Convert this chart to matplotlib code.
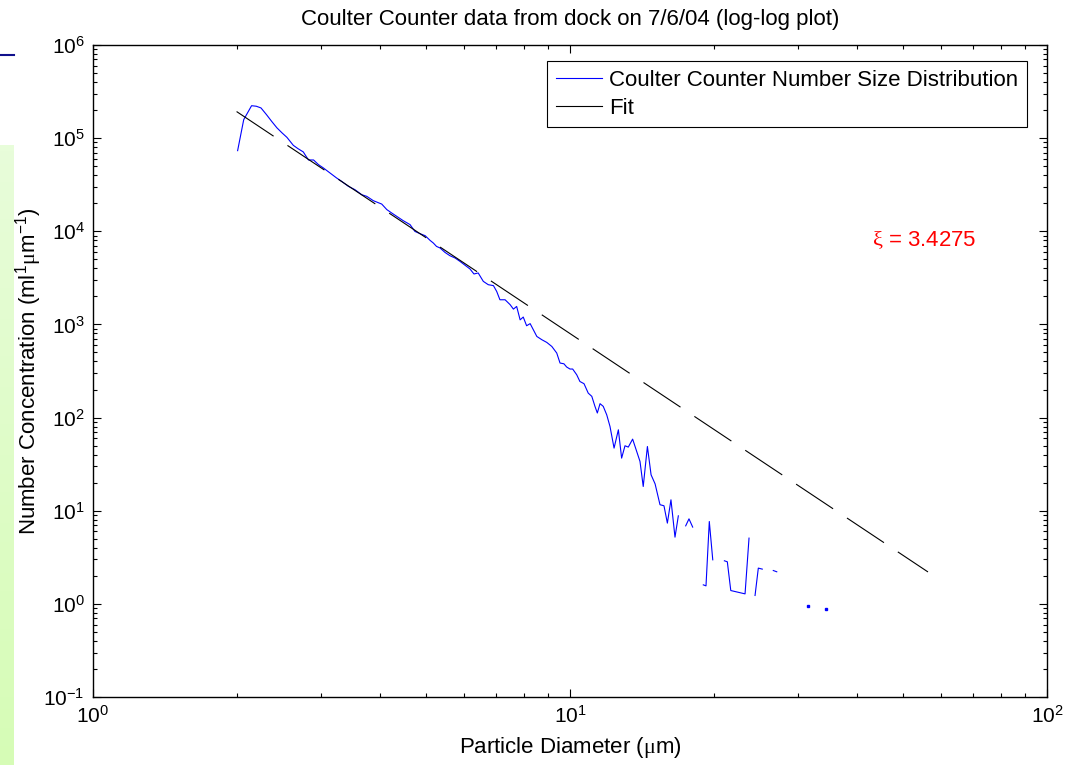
import numpy as np
import matplotlib.pyplot as plt
from matplotlib.lines import Line2D
from matplotlib.ticker import LogLocator

plt.rcParams['font.family'] = ['Liberation Sans', 'DejaVu Sans']
plt.rcParams['mathtext.fontset'] = 'custom'
plt.rcParams['mathtext.rm'] = 'Liberation Sans'
plt.rcParams['mathtext.it'] = 'Liberation Serif'
plt.rcParams['mathtext.default'] = 'regular'
plt.rcParams['axes.unicode_minus'] = False
plt.rcParams['lines.scale_dashes'] = False

# particle diameter (um)
diameter = [2.01, 2.07, 2.15, 2.20, 2.25, 2.31, 2.37, 2.43, 2.49, 2.55,
            2.59, 2.63, 2.69, 2.76, 2.78, 2.83, 2.90, 2.97, 3.04, 3.14,
            3.24, 3.32, 3.43, 3.54, 3.66, 3.75, 3.87, 4.03, 4.13, 4.23,
            4.33, 4.47, 4.62, 4.73, 4.85, 4.97, 5.09, 5.17, 5.25, 5.34,
            5.47, 5.60, 5.74, 5.88, 6.03, 6.17, 6.29, 6.42, 6.58, 6.74,
            6.91, 7.02, 7.13, 7.31, 7.49, 7.61, 7.73, 7.86, 7.98, 8.11,
            8.25, 8.38, 8.52, 8.73, 8.94, 9.16, 9.38, 9.53, 9.71, 9.84,
            10.00, 10.13, 10.33, 10.49, 10.70, 10.92, 11.11, 11.28, 11.41, 11.56,
            11.74, 11.94, 12.13, 12.37, 12.63, 12.83, 13.04, 13.25, 13.53, 13.91,
            14.02, 14.24, 14.53, 14.79, 15.08, 15.44, 15.74, 16.00, 16.28, 16.60,
            16.87, 17.20, 17.48, 17.76, 18.08, 18.50, 19.03, 19.28, 19.59, 19.92,
            20.50, 21.07, 21.37, 21.73, 22.72, 23.28, 23.73, 24.10, 24.43, 24.82,
            25.30, 26.00, 26.68, 27.13, 29.00, 31.50, 33.00, 34.41]

# number concentration, nan where the counter gave zero
nan = np.nan
concentration = [7.34e4, 1.58e5, 2.23e5, 2.20e5, 2.11e5, 1.79e5, 1.51e5, 1.29e5, 1.14e5, 1.02e5,
                 9.24e4, 8.37e4, 7.71e4, 7.11e4, 6.70e4, 5.83e4, 5.83e4, 5.19e4, 4.79e4, 4.23e4,
                 3.74e4, 3.44e4, 3.04e4, 2.80e4, 2.47e4, 2.37e4, 2.13e4, 1.96e4, 1.71e4, 1.57e4,
                 1.45e4, 1.30e4, 1.18e4, 9970, 9420, 8970, 7980, 7480, 6880, 6620,
                 5930, 5470, 5170, 4750, 4300, 3940, 3480, 3570, 2900, 2670,
                 2610, 2260, 1840, 1840, 1630, 1460, 1560, 1120, 1200, 968,
                 1020, 877, 743, 685, 641, 580, 493, 385, 378, 349,
                 332, 332, 288, 244, 231, 183, 169, 132, 112, 141,
                 132, 107, 80.2, 47.0, 73.9, 36.7, 49.8, 48.2, 58.7, 38.2,
                 33.8, 18.2, 48.9, 24.3, 19.4, 11.6, 11.3, 7.36, 13.1, 5.20,
                 8.81, nan, 6.88, 8.18, 6.67, nan, 1.60, 1.56, 7.66, 2.97,
                 nan, 2.90, 2.83, 1.39, 1.32, 1.28, 5.08, nan, 1.23, 2.42,
                 2.36, nan, 2.28, 2.21, nan, 0.953, nan, 0.877]

# power law fit end points
fit_d = [2.0, 56.3]
fit_n = [1.93e5, 2.2]
xi = 3.4275

d = np.array(diameter)
n = np.array(concentration)
# single points between gaps only show up as dots
ok = np.isfinite(n)
prev_ok = np.r_[False, ok[:-1]]
next_ok = np.r_[ok[1:], False]
lone = ok & ~prev_ok & ~next_ok

fig = plt.figure(figsize=(10.86, 7.65), dpi=100)

# bits of the slide behind the figure
gax = fig.add_axes([0, 0, 14/1086, 620/765])
grad = np.linspace(0, 1, 100)[:, None, None]
top = np.array([232, 253, 218]) / 255.
bot = np.array([214, 252, 182]) / 255.
gax.imshow(top + grad * (bot - top), aspect='auto')
gax.axis('off')
fig.add_artist(Line2D([0, 14/1086], [1 - 55/765, 1 - 55/765], transform=fig.transFigure,
                      color='#10108c', lw=1.5))

ax = fig.add_axes([93/1086, 68/765, 954/1086, 652/765])
ax.loglog(d, n, color='#0000ff', lw=0.8)
ax.plot(d[lone], n[lone], ls='none', marker='s', ms=1.6, color='#0000ff')
ax.plot(fit_d, fit_n, color='black', lw=0.8, ls=(0, (32, 12)))

ax.set_xlim(1, 100)
ax.set_ylim(0.1, 1e6)
ax.xaxis.set_major_locator(LogLocator(base=10, numticks=10))
ax.xaxis.set_minor_locator(LogLocator(base=10, subs=np.arange(2, 10), numticks=10))
ax.yaxis.set_major_locator(LogLocator(base=10, numticks=20))
ax.yaxis.set_minor_locator(LogLocator(base=10, subs=np.arange(2, 10), numticks=20))
ax.tick_params(which='both', direction='in', top=True, right=True, width=0.8)
ax.tick_params(which='major', length=6, labelsize=15, pad=6)
ax.tick_params(which='minor', length=3)
for s in ax.spines.values():
    s.set_linewidth(1.0)

fig.text(570/1086, 1 - 20/765, 'Coulter Counter data from dock on 7/6/04 (log-log plot)',
         ha='center', va='center', fontsize=16)
ax.set_xlabel('Particle Diameter ($\\mathit{\\mu}$m)', fontsize=16)
ax.set_ylabel('Number Concentration (ml$^{1}$$\\mathit{\\mu}$m$^{-1}$)', fontsize=16)
ax.xaxis.set_label_coords(0.5, -0.058)
ax.yaxis.set_label_coords(-0.051, 0.5)

ax.text(0.8166, 0.701, '$\\mathit{\\xi}$ = %.4f' % xi, transform=ax.transAxes,
        color='red', fontsize=16, va='center')

handles = [Line2D([], [], color='#0000ff', lw=0.8), Line2D([], [], color='black', lw=0.8)]
leg = ax.legend(handles, ['Coulter Counter Number Size Distribution', 'Fit'],
                loc='upper right', bbox_to_anchor=(1027/1086, 1 - 61/765),
                bbox_transform=fig.transFigure, fontsize=16, fancybox=False,
                edgecolor='black', framealpha=1, borderpad=0.4, labelspacing=0.3,
                handlelength=2.1, handletextpad=0.3, borderaxespad=0)
leg.get_frame().set_linewidth(0.8)

fig.savefig('out.png', dpi=100)
